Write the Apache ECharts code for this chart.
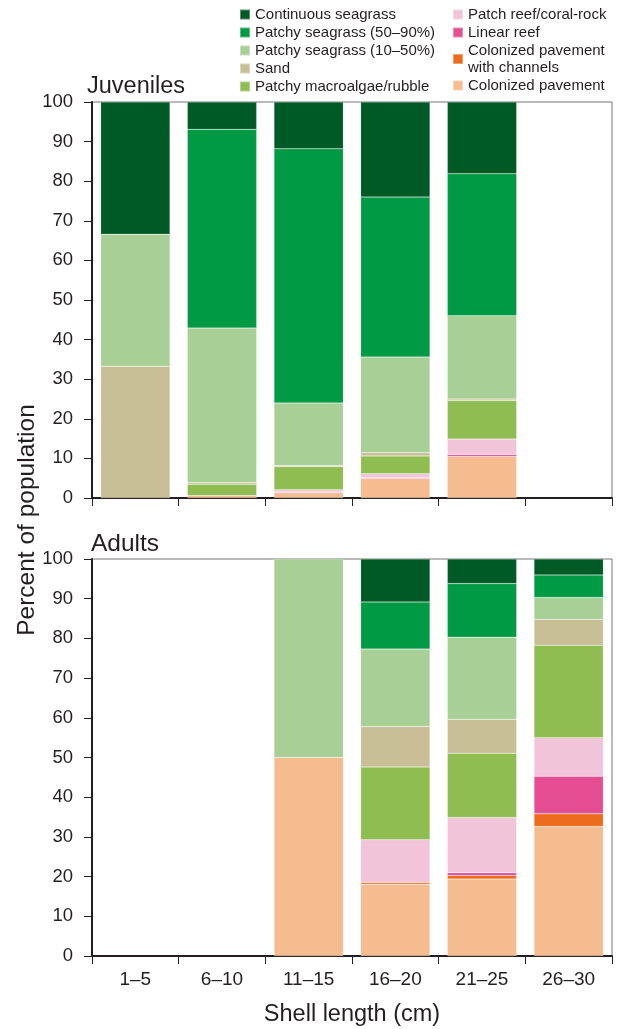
<!DOCTYPE html>
<html>
<head>
<meta charset="utf-8">
<script src="https://cdn.jsdelivr.net/npm/echarts@6/dist/echarts.min.js"></script>
<style>
  html, body { margin: 0; padding: 0; background: #fff; }
  #chart { width: 624px; height: 1029px; }
</style>
</head>
<body>
<div id="chart"></div>
<script>
// ============================================================
// DATA — percent of population by habitat, per shell length class
// Order of habitats = stacking order, bottom to top
// ============================================================

const sizeClasses = ['1–5', '6–10', '11–15', '16–20', '21–25', '26–30'];
const yTicks = [0, 10, 20, 30, 40, 50, 60, 70, 80, 90, 100];

const habitats = [
  'Colonized pavement',
  'Colonized pavement with channels',
  'Linear reef',
  'Patch reef/coral-rock',
  'Patchy macroalgae/rubble',
  'Sand',
  'Patchy seagrass (10–50%)',
  'Patchy seagrass (50–90%)',
  'Continuous seagrass'
];

const habitatColors = [
  '#f5bc90', '#ec6b1f', '#e54e93', '#f2c4da', '#8fbd51',
  '#c8bf96', '#a8d096', '#009a44', '#005a25'
];

// Juveniles, one array per habitat (same order as habitats)
const juvPavement  = [0,    0.6, 1.3,  4.9,  10.5, 0];
const juvChannels  = [0,    0,   0,    0,    0,    0];
const juvLinear    = [0,    0,   0.2,  0.2,  0.5,  0];
const juvPatchReef = [0,    0,   0.6,  1.0,  3.9,  0];
const juvMacro     = [0,    2.9, 5.8,  4.5,  9.7,  0];
const juvSand      = [33.3, 0.4, 0.3,  0.8,  0.4,  0];
const juvSeag10    = [33.3, 39,  15.8, 24.2, 21.0, 0];
const juvSeag50    = [0,    50.2, 64.2, 40.4, 35.9, 0];
const juvContin    = [33.4, 6.9, 11.8, 24.0, 18.1, 0];

// Adults
const adPavement  = [0, 0, 50,  18.1, 19.4, 32.6];
const adChannels  = [0, 0, 0,   0.4,  0.9,  3.2];
const adLinear    = [0, 0, 0,   0,    0.7,  9.5];
const adPatchReef = [0, 0, 0,   10.8, 13.9, 9.7];
const adMacro     = [0, 0, 0,   18.3, 16.2, 23.3];
const adSand      = [0, 0, 0,   10.2, 8.5,  6.5];
const adSeag10    = [0, 0, 50,  19.5, 20.7, 5.5];
const adSeag50    = [0, 0, 0,   11.9, 13.5, 5.7];
const adContin    = [0, 0, 0,   10.8, 6.2,  4.0];

const juvenileData = [juvPavement, juvChannels, juvLinear, juvPatchReef, juvMacro,
  juvSand, juvSeag10, juvSeag50, juvContin];
const adultData = [adPavement, adChannels, adLinear, adPatchReef, adMacro,
  adSand, adSeag10, adSeag50, adContin];

// ============================================================
// CHART
// ============================================================

const textColor = '#231f20';
const font = 'Liberation Sans, Arial, Helvetica, sans-serif';

function makeSeries(dataSets, gridIndex, stackName) {
  return dataSets.map(function(values, i) {
    return {
      name: habitats[i],
      type: 'bar',
      stack: stackName,
      xAxisIndex: gridIndex,
      yAxisIndex: gridIndex,
      barWidth: '80%',
      itemStyle: {
        color: habitatColors[i],
        borderColor: 'rgba(255,255,255,0.35)',
        borderWidth: 0.5
      },
      emphasis: { disabled: true },
      data: values.map(function(v) { return v === 0 ? '-' : v; })
    };
  });
}

function xAxisFor(gridIndex, showLabels) {
  return {
    type: 'category',
    gridIndex: gridIndex,
    data: sizeClasses,
    boundaryGap: true,
    axisLine: { lineStyle: { color: textColor, width: 2 } },
    axisTick: { show: true, interval: 0, length: 8, lineStyle: { color: textColor, width: 1 } },
    axisLabel: {
      show: showLabels, interval: 0, margin: 14,
      color: textColor, fontSize: 19, fontFamily: font
    },
    name: showLabels ? 'Shell length (cm)' : '',
    nameLocation: 'middle',
    nameGap: 47,
    nameTextStyle: { color: textColor, fontSize: 23.5, fontFamily: font }
  };
}

function yAxisFor(gridIndex) {
  return {
    type: 'value',
    gridIndex: gridIndex,
    min: 0,
    max: 100,
    interval: 10,
    axisLine: { show: true, lineStyle: { color: textColor, width: 2 } },
    axisTick: { show: true, length: 8, lineStyle: { color: textColor, width: 1 } },
    axisLabel: { margin: 19, color: textColor, fontSize: 18.5, fontFamily: font },
    splitLine: { show: false }
  };
}

const chart = echarts.init(document.getElementById('chart'), null, { renderer: 'canvas' });

const legendText = {
  color: textColor, fontSize: 15, fontFamily: font, lineHeight: 17
};

chart.setOption({
  animation: false,
  backgroundColor: '#ffffff',
  title: [
    { text: 'Juveniles', left: 82, top: 70,
      textStyle: { color: textColor, fontSize: 23.5, fontWeight: 'normal', fontFamily: font } },
    { text: 'Adults', left: 86, top: 527,
      textStyle: { color: textColor, fontSize: 24.5, fontWeight: 'normal', fontFamily: font } }
  ],
  legend: [
    {
      orient: 'vertical', left: 239, top: 6, padding: 0,
      itemWidth: 10, itemHeight: 10, itemGap: 1,
      icon: 'rect', selectedMode: false,
      textStyle: legendText,
      data: habitats.slice(4).reverse()
    },
    {
      orient: 'vertical', left: 452, top: 6, padding: 0,
      itemWidth: 10, itemHeight: 10, itemGap: 1,
      icon: 'rect', selectedMode: false,
      textStyle: legendText,
      formatter: function(name) {
        return name === 'Colonized pavement with channels'
          ? 'Colonized pavement\nwith channels' : name;
      },
      data: habitats.slice(0, 4).reverse()
    }
  ],
  grid: [
    { left: 92, top: 102, width: 520, height: 396, outerBoundsMode: 'none',
      show: true, borderColor: '#777', borderWidth: 1 },
    { left: 92, top: 559, width: 520, height: 397, outerBoundsMode: 'none',
      show: true, borderColor: '#777', borderWidth: 1 }
  ],
  xAxis: [xAxisFor(0, false), xAxisFor(1, true)],
  yAxis: [yAxisFor(0), yAxisFor(1)],
  graphic: [{
    type: 'text',
    x: 27,
    y: 520,
    rotation: Math.PI / 2,
    style: {
      text: 'Percent of population',
      fill: textColor,
      font: '24.5px ' + font,
      align: 'center',
      verticalAlign: 'middle'
    }
  }],
  series: makeSeries(juvenileData, 0, 'juv').concat(makeSeries(adultData, 1, 'adult'))
});
</script>
</body>
</html>
